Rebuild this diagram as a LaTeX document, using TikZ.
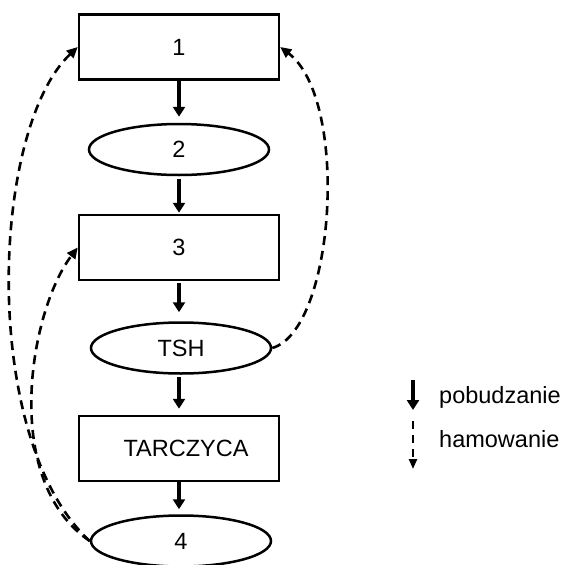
\documentclass[tikz,border=0pt]{standalone}
\usepackage{fontspec}
\setmainfont{Liberation Sans}
\usetikzlibrary{shapes.geometric,arrows.meta}
\begin{document}
\begin{tikzpicture}[x=1pt,y=-1pt,
  every node/.style={font=\fontsize{23.5}{27}\selectfont},
  boxnode/.style={draw,line width=2.5pt,minimum width=200pt,minimum height=65pt,inner sep=0pt},
  ellnode/.style={draw,ellipse,line width=2.5pt,minimum width=180pt,minimum height=51pt,inner sep=0pt},
  thick arrow/.style={line width=4.5pt,-{Triangle[length=10pt,width=12pt]}},
  dash arrow/.style={line width=2.6pt,dash pattern=on 9pt off 6pt,-{Triangle[length=11pt,width=10pt]}}]
\clip (0,0) rectangle (563,565);
\fill[white] (0,0) rectangle (563,565);

\node[boxnode] (n1) at (179,47) {1};
\node[ellnode] (n2) at (179,149.5) {2};
\node[boxnode] (n3) at (179,247.5) {3};
\node[ellnode] (tsh) at (181,348) {TSH};
\node[boxnode] (tar) at (179,448.5) {\hspace*{14pt}TARCZYCA};
\node[ellnode] (n4) at (181,541) {4};

\draw[thick arrow,shorten >=6pt] (n1.south) -- (n2.north);
\draw[thick arrow,shorten <=3pt,shorten >=1pt] (n2.south) -- (n3.north);
\draw[thick arrow,shorten <=2pt,shorten >=9pt] (n3.south) -- (n3.south |- tsh.north);
\draw[thick arrow,shorten <=2pt,shorten >=6pt] (tar.north |- tsh.south) -- (tar.north);
\draw[thick arrow,shorten >=5pt] (tar.south) -- (tar.south |- n4.north);

\draw[dash arrow] (n4.west) .. controls (-20,440) and (-10,130) .. (n1.west);
\draw[dash arrow] (n4.west) .. controls (0,480) and (30,310) .. (n3.west);
\draw[dash arrow] (tsh.east) .. controls (335,330) and (350,100) .. (n1.east);

\coordinate (la1) at (413,380);
\coordinate (la2) at (413,410);
\coordinate (lb1) at (413,421);
\coordinate (lb2) at (413,469);
\draw[thick arrow] (la1) -- (la2);
\draw[line width=2.4pt,dash pattern=on 8pt off 6pt,-{Triangle[length=10pt,width=8pt]}] (lb1) -- (lb2);
\node[anchor=base west,inner sep=0pt] (t1) at (439,403) {pobudzanie};
\node[anchor=base west,inner sep=0pt] (t2) at (439,447) {hamowanie};
\end{tikzpicture}
\end{document}
